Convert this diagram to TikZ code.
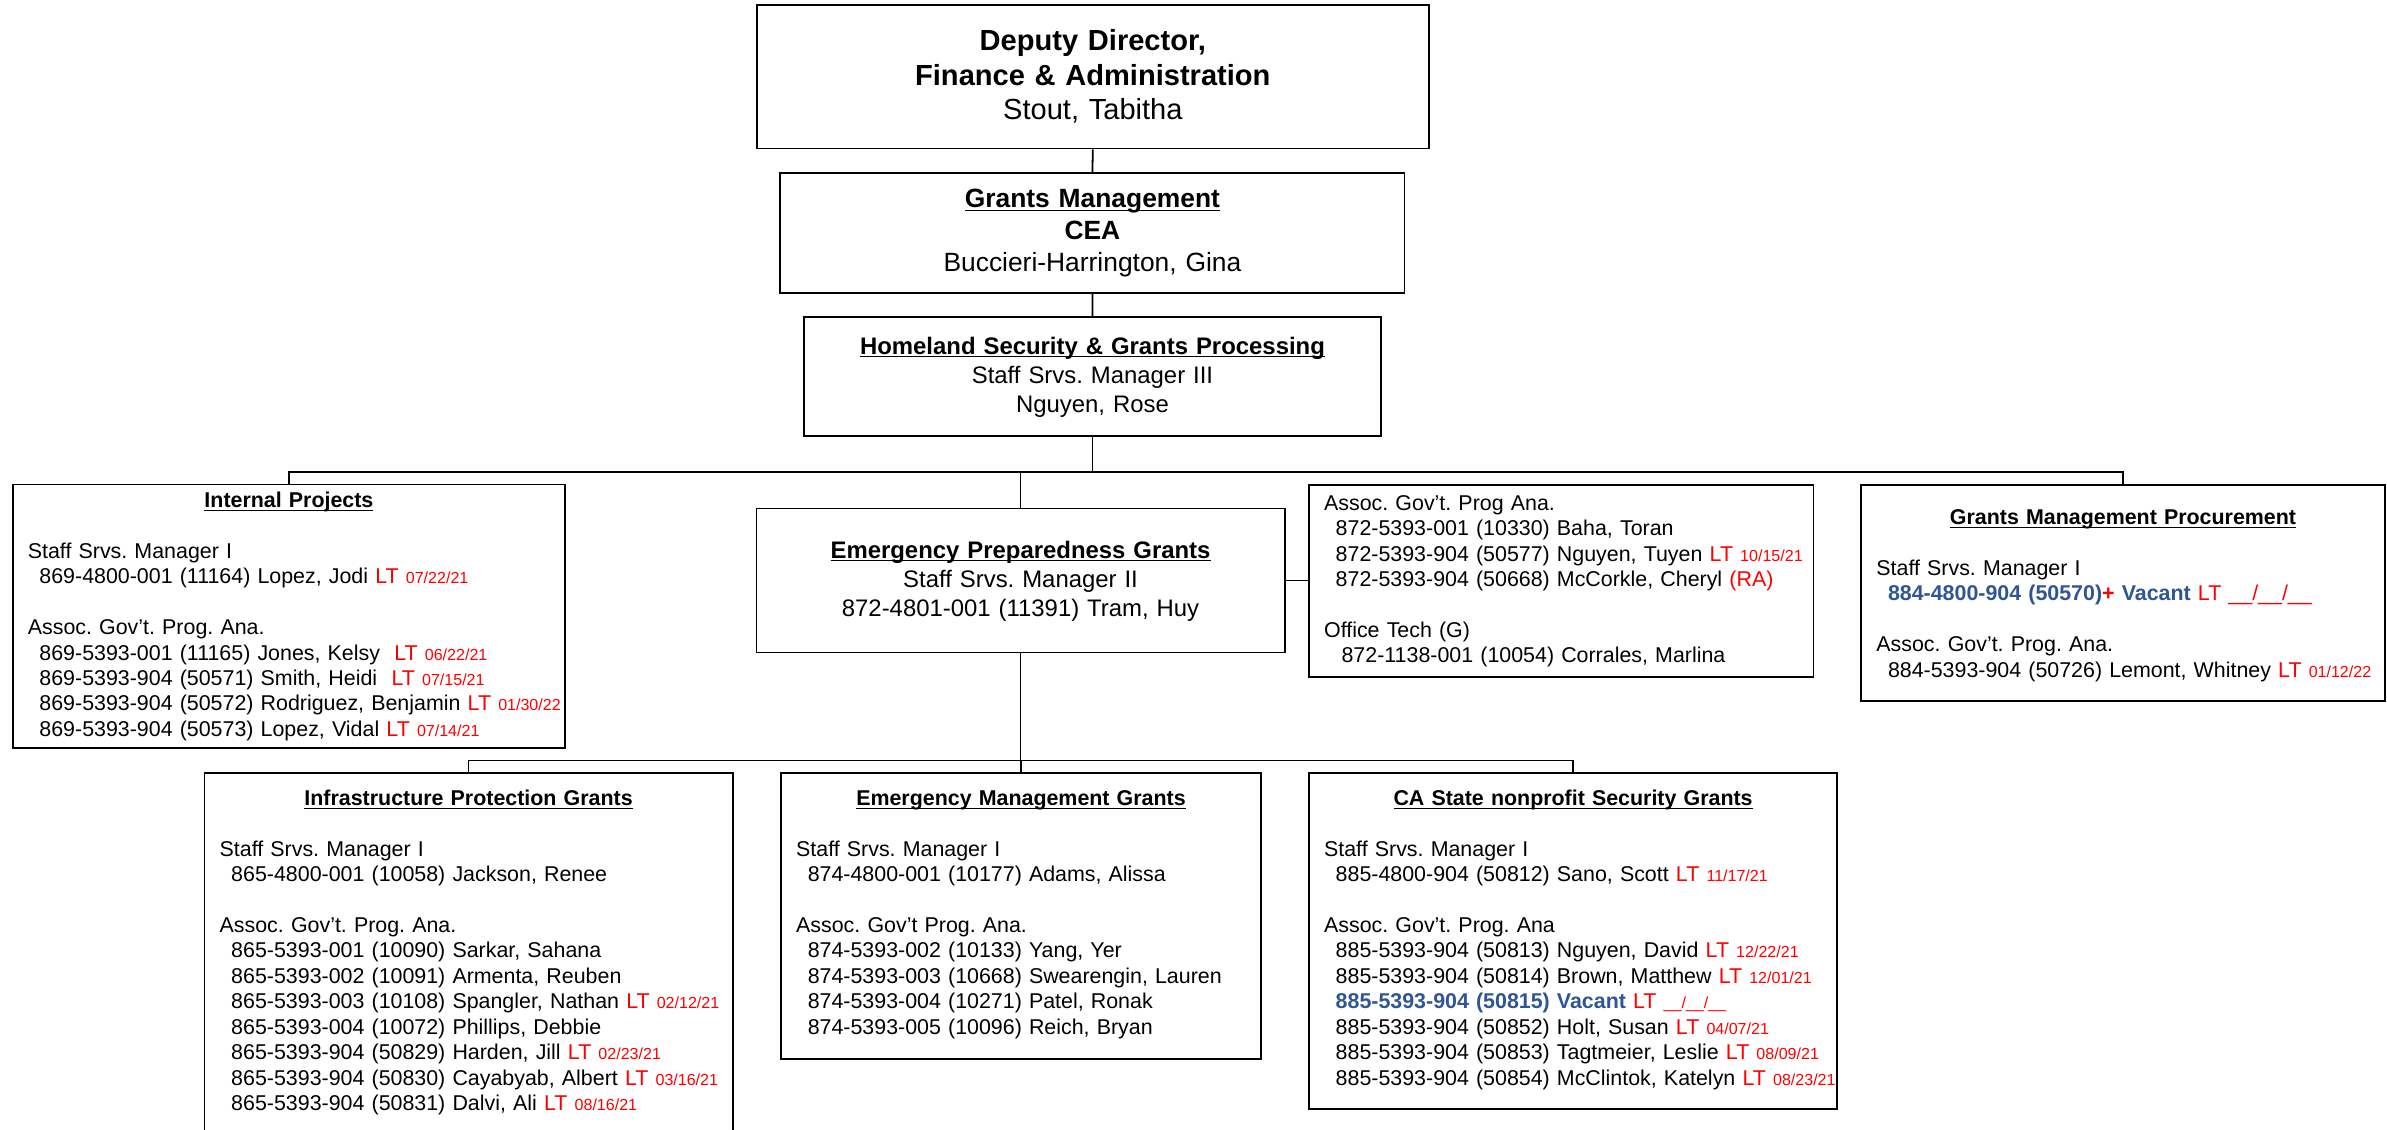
\documentclass[tikz,border=0pt]{standalone}
\usepackage{fontspec}
\setmainfont{Liberation Sans}
\usepackage{xcolor}
\frenchspacing

\definecolor{vacblue}{HTML}{2F5597}
\newcommand{\unithead}[1]{\underline{\smash{\textbf{#1}}}}
\newcommand{\posrow}[1]{\mbox{\hspace*{6.5pt}#1}}
\newcommand{\ltdate}[1]{\textcolor{red}{LT {\fontsize{9}{10}\selectfont #1}}}

\tikzset{
  orgbox/.style={draw, line width=1pt, anchor=north west, inner xsep=0.3cm, inner ysep=0pt},
  headbox/.style={orgbox, align=center},
  listbox/.style={orgbox, align=left, font=\fontsize{12}{14.25}\selectfont},
  wire/.style={line width=1pt}
}

\begin{document}
\begin{tikzpicture}[x=0.03cm, y=-0.03cm]
\useasboundingbox (0,0) rectangle (1568,742);

% top of the chart
\node[headbox, font=\fontsize{16.3}{19.2}\selectfont, text width=12.64cm, text height=0.906cm, text depth=1.926cm] (dd) at (496.6,2.6)
  {\textbf{Deputy Director,}\\ \textbf{Finance \& Administration}\\ Stout, Tabitha};
\node[headbox, font=\fontsize{14.8}{17.9}\selectfont, text width=11.7cm, text height=0.684cm, text depth=1.686cm] (gm) at (512,113)
  {\unithead{Grants Management}\\ \textbf{CEA}\\ Buccieri-Harrington, Gina};
\node[headbox, font=\fontsize{13.4}{16.5}\selectfont, text width=10.767cm, text height=0.732cm, text depth=1.62cm] (hs) at (527.6,207.6)
  {\unithead{Homeland Security \& Grants Processing}\\ Staff Srvs. Manager III\\ Nguyen, Rose};

% second row
\node[listbox, text width=10.29cm, text height=0.453cm, text depth=4.74cm] (ip) at (7.7,317.7)
  {\makebox[\linewidth]{\unithead{Internal Projects}}\\
   \mbox{}\\
   Staff Srvs. Manager I\\
   \posrow{869-4800-001 (11164) Lopez, Jodi \ltdate{07/22/21}}\\
   \mbox{}\\
   Assoc. Gov’t. Prog. Ana.\\
   \posrow{869-5393-001 (11165) Jones, Kelsy\ \ \ltdate{06/22/21}}\\
   \posrow{869-5393-904 (50571) Smith, Heidi\ \ \ltdate{07/15/21}}\\
   \posrow{869-5393-904 (50572) Rodriguez, Benjamin \ltdate{01/30/22}}\\
   \posrow{869-5393-904 (50573) Lopez, Vidal \ltdate{07/14/21}}};
\node[headbox, font=\fontsize{13.4}{16.5}\selectfont, text width=9.81cm, text height=0.975cm, text depth=1.86cm] (epg) at (496.3,333.5)
  {\unithead{Emergency Preparedness Grants}\\ Staff Srvs. Manager II\\ 872-4801-001 (11391) Tram, Huy};
\node[listbox, text width=9.342cm, text height=0.498cm, text depth=3.279cm] (assoc) at (859.2,318)
  {Assoc. Gov’t. Prog Ana.\\
   \posrow{872-5393-001 (10330) Baha, Toran}\\
   \posrow{872-5393-904 (50577) Nguyen, Tuyen \ltdate{10/15/21}}\\
   \posrow{872-5393-904 (50668) McCorkle, Cheryl \textcolor{red}{(RA)}}\\
   \mbox{}\\
   Office Tech (G)\\
   \posrow{\hspace*{3.3pt}872-1138-001 (10054) Corrales, Marlina}};
\node[listbox, text width=9.72cm, text height=0.78cm, text depth=3.48cm] (gmp) at (1222,318)
  {\makebox[\linewidth]{\unithead{Grants Management Procurement}}\\
   \mbox{}\\
   Staff Srvs. Manager I\\
   \posrow{\textbf{\textcolor{vacblue}{884-4800-904 (50570)}\textcolor{red}{+} \textcolor{vacblue}{Vacant}} \textcolor{red}{LT \_\_/\_\_/\_\_}}\\
   \mbox{}\\
   Assoc. Gov’t. Prog. Ana.\\
   \posrow{884-5393-904 (50726) Lemont, Whitney \ltdate{01/12/22}}};

% third row
\node[listbox, text width=9.81cm, text height=0.636cm, text depth=6.585cm] (ipg) at (133.7,507.3)
  {\makebox[\linewidth]{\unithead{Infrastructure Protection Grants}}\\
   \mbox{}\\
   Staff Srvs. Manager I\\
   \posrow{865-4800-001 (10058) Jackson, Renee}\\
   \mbox{}\\
   Assoc. Gov’t. Prog. Ana.\\
   \posrow{865-5393-001 (10090) Sarkar, Sahana}\\
   \posrow{865-5393-002 (10091) Armenta, Reuben}\\
   \posrow{865-5393-003 (10108) Spangler, Nathan \ltdate{02/12/21}}\\
   \posrow{865-5393-004 (10072) Phillips, Debbie}\\
   \posrow{865-5393-904 (50829) Harden, Jill \ltdate{02/23/21}}\\
   \posrow{865-5393-904 (50830) Cayabyab, Albert \ltdate{03/16/21}}\\
   \posrow{865-5393-904 (50831) Dalvi, Ali \ltdate{08/16/21}}};
\node[listbox, text width=8.862cm, text height=0.636cm, text depth=5.0cm] (emg) at (512.4,507.3)
  {\makebox[\linewidth]{\unithead{Emergency Management Grants}}\\
   \mbox{}\\
   Staff Srvs. Manager I\\
   \posrow{874-4800-001 (10177) Adams, Alissa}\\
   \mbox{}\\
   Assoc. Gov’t Prog. Ana.\\
   \posrow{874-5393-002 (10133) Yang, Yer}\\
   \posrow{874-5393-003 (10668) Swearengin, Lauren}\\
   \posrow{874-5393-004 (10271) Patel, Ronak}\\
   \posrow{874-5393-005 (10096) Reich, Bryan}};
\node[listbox, text width=9.813cm, text height=0.636cm, text depth=5.985cm] (ca) at (859.2,507.3)
  {\makebox[\linewidth]{\unithead{CA State nonprofit Security Grants}}\\
   \mbox{}\\
   Staff Srvs. Manager I\\
   \posrow{885-4800-904 (50812) Sano, Scott \ltdate{11/17/21}}\\
   \mbox{}\\
   Assoc. Gov’t. Prog. Ana\\
   \posrow{885-5393-904 (50813) Nguyen, David \ltdate{12/22/21}}\\
   \posrow{885-5393-904 (50814) Brown, Matthew \ltdate{12/01/21}}\\
   \posrow{\textcolor{vacblue}{\textbf{885-5393-904 (50815) Vacant}} \ltdate{\_\_/\_\_/\_\_}}\\
   \posrow{885-5393-904 (50852) Holt, Susan \ltdate{04/07/21}}\\
   \posrow{885-5393-904 (50853) Tagtmeier, Leslie \ltdate{08/09/21}}\\
   \posrow{885-5393-904 (50854) McClintok, Katelyn \ltdate{08/23/21}}};

% connectors
\coordinate (topbus) at (717,310);
\coordinate (lowbus) at (670,499.5);
\draw[wire] (dd.south) -- (gm.north);
\draw[wire] (gm.south) -- (hs.north);
\draw[wire] (hs.south) -- (hs.south |- topbus);
\draw[wire] (ip.north) -- (ip.north |- topbus) -- (gmp.north |- topbus) -- (gmp.north);
\draw[wire] (epg.north) -- (epg.north |- topbus);
\draw[wire] (epg.east) -- (assoc.west |- epg.east);
\draw[wire] (epg.south) -- (epg.south |- lowbus);
\draw[wire] (ipg.north) -- (ipg.north |- lowbus) -- (ca.north |- lowbus) -- (ca.north);
\draw[wire] (emg.north) -- (emg.north |- lowbus);
\end{tikzpicture}
\end{document}
